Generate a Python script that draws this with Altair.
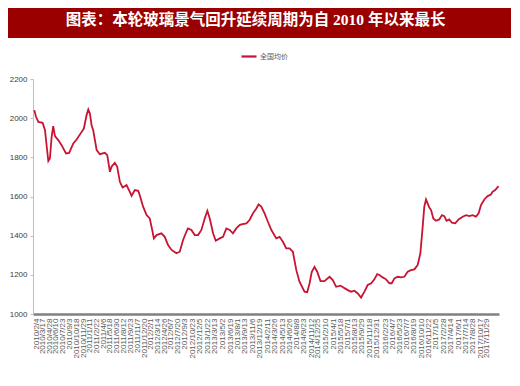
import altair as alt
import pandas as pd

TITLE = "图表：本轮玻璃景气回升延续周期为自 2010 年以来最长"
SERIES = "全国均价"

dates = [
    "2010-01-24", "2010-02-04", "2010-02-19", "2010-03-18", "2010-04-02", "2010-04-13",
    "2010-04-23", "2010-05-03", "2010-05-14", "2010-05-24", "2010-06-04", "2010-06-25",
    "2010-07-16", "2010-08-13", "2010-09-02", "2010-09-28", "2010-10-19", "2010-11-20",
    "2010-12-04", "2010-12-21", "2011-01-01", "2011-01-11", "2011-01-22", "2011-02-01",
    "2011-02-23", "2011-03-15", "2011-04-16", "2011-05-01", "2011-05-18", "2011-05-28",
    "2011-06-18", "2011-07-03", "2011-07-20", "2011-08-06", "2011-08-31", "2011-09-21",
    "2011-10-02", "2011-10-23", "2011-11-13", "2011-11-19", "2011-12-14", "2012-01-05",
    "2012-01-25", "2012-02-12", "2012-02-20", "2012-03-08", "2012-04-08", "2012-04-29",
    "2012-05-20", "2012-06-11", "2012-07-12", "2012-08-02", "2012-08-23", "2012-09-13",
    "2012-09-23", "2012-10-15", "2012-11-05", "2012-11-26", "2012-12-17", "2013-01-07",
    "2013-01-24", "2013-02-08", "2013-03-01", "2013-03-18", "2013-04-12", "2013-05-03",
    "2013-05-24", "2013-06-14", "2013-07-05", "2013-07-26", "2013-08-16", "2013-08-27",
    "2013-09-28", "2013-10-18", "2013-11-08", "2013-11-30", "2013-12-14", "2013-12-31",
    "2014-01-21", "2014-02-11", "2014-03-05", "2014-04-05", "2014-04-26", "2014-05-17",
    "2014-06-07", "2014-06-28", "2014-07-19", "2014-08-10", "2014-08-30", "2014-10-01",
    "2014-10-18", "2014-11-02", "2014-11-16", "2014-12-03", "2014-12-20", "2015-01-10",
    "2015-02-04", "2015-03-08", "2015-03-29", "2015-04-19", "2015-05-17", "2015-06-11",
    "2015-07-02", "2015-07-23", "2015-08-13", "2015-09-03", "2015-09-24", "2015-10-15",
    "2015-11-05", "2015-11-27", "2015-12-17", "2016-01-04", "2016-01-18", "2016-02-08",
    "2016-02-29", "2016-03-21", "2016-04-05", "2016-04-22", "2016-05-13", "2016-06-03",
    "2016-06-24", "2016-07-15", "2016-08-05", "2016-08-26", "2016-09-16", "2016-10-03",
    "2016-10-18", "2016-10-28", "2016-11-08", "2016-11-18", "2016-11-29", "2016-12-10",
    "2016-12-24", "2017-01-10", "2017-01-31", "2017-02-17", "2017-03-04", "2017-03-18",
    "2017-04-04", "2017-04-21", "2017-05-12", "2017-06-02", "2017-06-28", "2017-07-19",
    "2017-08-09", "2017-08-30", "2017-09-20", "2017-10-07", "2017-10-22", "2017-11-12",
    "2017-12-03", "2017-12-24", "2018-01-03", "2018-01-20", "2018-02-10",
]

values = [
    2041, 2007, 1981, 1976, 1939, 1854,
    1781, 1794, 1905, 1959, 1908, 1888,
    1862, 1820, 1823, 1871, 1891, 1930,
    1947, 2015, 2044, 2024, 1964, 1939,
    1837, 1816, 1823, 1811, 1726, 1752,
    1772, 1752, 1675, 1646, 1658, 1624,
    1604, 1633, 1629, 1616, 1548, 1505,
    1488, 1420, 1386, 1403, 1412, 1394,
    1352, 1327, 1310, 1318, 1378, 1420,
    1437, 1429, 1403, 1403, 1429, 1488,
    1527, 1488, 1412, 1374, 1386, 1394,
    1437, 1429, 1412, 1437, 1454, 1458,
    1463, 1480, 1514, 1539, 1560, 1548,
    1514, 1471, 1429, 1386, 1394, 1369,
    1335, 1335, 1318, 1224, 1165, 1114,
    1111, 1157, 1216, 1241, 1216, 1168,
    1168, 1190, 1173, 1139, 1145, 1132,
    1122, 1114, 1119, 1105, 1084, 1114,
    1148, 1157, 1177, 1204, 1199, 1187,
    1177, 1157, 1157, 1182, 1190, 1187,
    1190, 1216, 1224, 1228, 1250, 1309,
    1446, 1548, 1585, 1565, 1544, 1531,
    1488, 1476, 1483, 1505, 1500, 1476,
    1483, 1466, 1463, 1483, 1497, 1505,
    1500, 1505, 1497, 1514, 1556, 1585,
    1602, 1610, 1624, 1633, 1653,
]

tick_labels = [
    "2010/2/4", "2010/3/17", "2010/4/28", "2010/6/10", "2010/7/23", "2010/9/3",
    "2010/10/18", "2010/11/29", "2011/1/11", "2011/2/22", "2011/4/6", "2011/5/18",
    "2011/6/30", "2011/8/12", "2011/9/23", "2011/11/7", "2011/12/20", "2012/2/1",
    "2012/3/14", "2012/4/26", "2012/6/7", "2012/7/20", "2012/9/3", "2012/10/23",
    "2012/12/5", "2013/1/22", "2013/3/13", "2013/5/2", "2013/6/19", "2013/8/1",
    "2013/9/13", "2013/11/6", "2013/12/19", "2014/2/11", "2014/3/26", "2014/5/13",
    "2014/6/26", "2014/8/8", "2014/9/23", "2014/11/12", "2014/12/25", "2015/2/10",
    "2015/4/1", "2015/5/18", "2015/7/1", "2015/8/13", "2015/9/29", "2015/11/18",
    "2015/12/31", "2016/2/23", "2016/4/7", "2016/5/23", "2016/7/7", "2016/8/19",
    "2016/10/10", "2016/11/22", "2017/1/5", "2017/2/28", "2017/4/14", "2017/6/1",
    "2017/7/14", "2017/8/28", "2017/10/17", "2017/11/29",
]

y_ticks = [1000, 1200, 1400, 1600, 1800, 2000, 2200]

LINE_COLOR = "#C81432"
BAND_COLOR = "#9A0000"


def to_dt(s):
    y, m, d = [int(p) for p in s.split("/")]
    return alt.DateTime(year=y, month=m, date=d, utc=True)


tick_values = [to_dt(s) for s in tick_labels]

df = pd.DataFrame({"date": dates, "value": values, "series": SERIES})
title_df = pd.DataFrame({"title": [TITLE]})

band = alt.Chart(title_df).mark_rect(color=BAND_COLOR).encode(
    x=alt.value(-25), x2=alt.value(478), y=alt.value(-71), y2=alt.value(-41)
)

title = alt.Chart(title_df).mark_text(
    color="white", fontSize=15.5, fontWeight="bold",
    font="Liberation Serif, Noto Sans CJK SC",
    align="center", baseline="middle",
).encode(text="title:N", x=alt.value(222.5), y=alt.value(-59.5))

line = alt.Chart(df).mark_line(strokeWidth=1.8).encode(
    x=alt.X(
        "date:T",
        scale=alt.Scale(
            type="utc",
            domain=[alt.DateTime(year=2010, month=1, date=16, utc=True),
                    alt.DateTime(year=2018, month=2, date=13, utc=True)],
        ),
        axis=alt.Axis(
            values=tick_values, format="%Y/%-m/%-d", title=None,
            labelAngle=270, labelFontSize=8, labelColor="#595959",
            labelFont="Liberation Sans", labelOverlap=False, labelBound=False,
            labelFlush=False, labelPadding=4, ticks=False, grid=False,
            domainColor="#808080", domainWidth=2.5,
        ),
    ),
    y=alt.Y(
        "value:Q",
        scale=alt.Scale(domain=[1000, 2200], nice=False, zero=False),
        axis=alt.Axis(
            values=y_ticks, format="d", title=None, grid=False, labelFontSize=8,
            labelColor="#404040", labelFont="Liberation Sans", labelPadding=3,
            tickSize=3, tickColor="#BFBFBF", domainColor="#BFBFBF",
        ),
    ),
    color=alt.Color(
        "series:N",
        scale=alt.Scale(range=[LINE_COLOR]),
        legend=alt.Legend(
            title=None, orient="none", legendX=207, legendY=-31.5,
            symbolType="stroke", symbolSize=225, symbolStrokeWidth=2.2,
            labelFontSize=7, labelColor="#595959", labelFont="Noto Sans CJK SC",
            labelOffset=2, padding=0,
        ),
    ),
)

chart = alt.layer(band, line, title).properties(
    width=466, height=235,
    autosize=alt.AutoSizeParams(type="none"),
    padding={"left": 25, "top": 71, "right": 13, "bottom": 72},
).configure_view(stroke=None)

chart.save("out.html", embed_options={"renderer": "svg", "actions": False})
